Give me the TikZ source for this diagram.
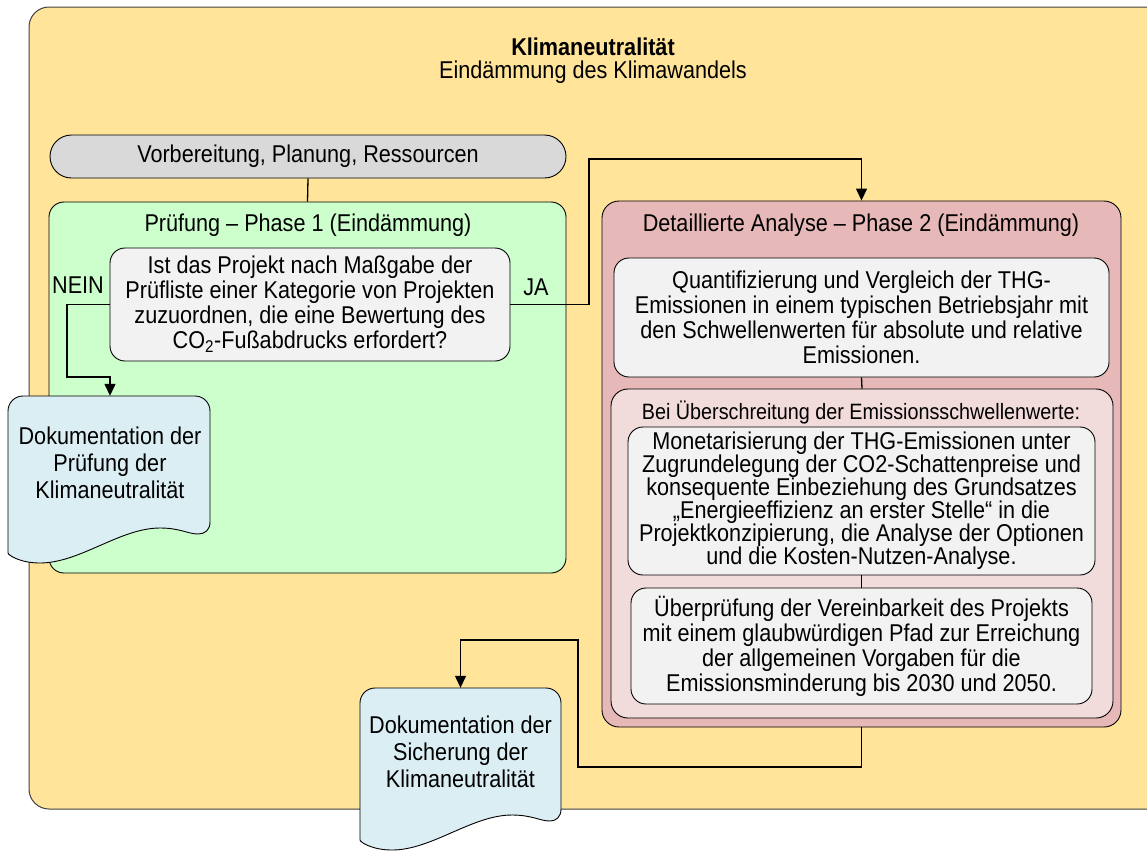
\documentclass[tikz,border=0pt]{standalone}
\usepackage{fontspec}
\setmainfont{Liberation Sans}[FakeStretch=0.89]
\usetikzlibrary{arrows.meta}
\definecolor{outerY}{HTML}{FFE499}
\definecolor{greyB}{HTML}{D9D9D9}
\definecolor{greenB}{HTML}{CCFFCC}
\definecolor{lightB}{HTML}{F2F2F2}
\definecolor{docB}{HTML}{DBEEF4}
\definecolor{redB}{HTML}{E6B8B7}
\definecolor{pinkB}{HTML}{F2DCDB}
\newcommand{\fsA}{\fontsize{24.3}{25}\selectfont}
\newcommand{\fsM}{\fontsize{24.3}{23}\selectfont}
\newcommand{\fsD}{\fontsize{24.3}{27}\selectfont}
\newcommand{\fsS}{\fontsize{22.2}{24}\selectfont}
\newcommand{\docshape}[5]{% x0 y0 x1 yb fill
  \filldraw[fill=#5, draw=black, line width=0.9pt]
    (#3,{#4-41}) [rounded corners=15pt] -- (#3,#2) -- (#1,#2) -- (#1,{#4-25}) [sharp corners]
    .. controls (#1,{#4-8}) and ({#1+12},#4) .. ({#1+32},#4)
    .. controls ({#1+72},#4) and ({#1+112},{#4-35}) .. ({#1+152},{#4-35})
    .. controls ({#1+172},{#4-35}) and ({#1+180},{#4-29}) .. ({#1+190},{#4-29})
    .. controls ({#3-5},{#4-29}) and (#3,{#4-33}) .. (#3,{#4-41}) -- cycle;}
\tikzset{
  box/.style={draw=black, line width=0.9pt, inner sep=0pt, align=center, font=\fsA},
  lbl/.style={inner sep=0pt, align=center, font=\fsA},
  conn/.style={draw=black, line width=1.3pt},
  arr/.style={conn, -{Triangle[length=12pt,width=11pt]}},
}
\begin{document}
\begin{tikzpicture}[x=1pt,y=-1pt]
\useasboundingbox (0,0) rectangle (1147,852);
\clip (0,0) rectangle (1147,852);
% outer frame
\filldraw[fill=outerY, draw=black!75, line width=1pt, rounded corners=20pt] (29,7) rectangle (1170,809);
\node[lbl, font=\fsA\bfseries] (title) at (593,47) {Klimaneutralität};
\node[lbl] (subtitle) at (593,72) {Eindämmung des Klimawandels};
% grey bar
\node[box, fill=greyB, rounded corners=21.5pt, minimum width=516pt, minimum height=43pt] (prep) at (308,156.5) {Vorbereitung, Planung, Ressourcen};
% green phase 1
\node[box, fill=greenB, rounded corners=15pt, minimum width=517pt, minimum height=371pt] (green) at (307.5,387.5) {};
\node[lbl] (greentitle) at (308,225) {Prüfung – Phase 1 (Eindämmung)};
\node[box, fill=lightB, rounded corners=15pt, minimum width=400pt, minimum height=113pt] (q) at (310,304.5)
  {Ist das Projekt nach Maßgabe der\\Prüfliste einer Kategorie von Projekten\\zuzuordnen, die eine Bewertung des\\CO\textsubscript{2}-Fußabdrucks erfordert?};
\node[lbl] (nein) at (78,285) {NEIN};
\node[lbl] (ja) at (536,287) {JA};
% red phase 2
\node[box, fill=redB, rounded corners=17pt, minimum width=519pt, minimum height=526pt] (red) at (861.5,464) {};
\node[lbl] (redtitle) at (861,225) {Detaillierte Analyse – Phase 2 (Eindämmung)};
\node[box, fill=lightB, rounded corners=15pt, minimum width=495pt, minimum height=119pt] (quant) at (861.5,317.5)
  {Quantifizierung und Vergleich der THG-\\Emissionen in einem typischen Betriebsjahr mit\\den Schwellenwerten für absolute und relative\\Emissionen.};
\node[box, fill=pinkB, rounded corners=17pt, minimum width=502pt, minimum height=329pt] (pink) at (862,553.5) {};
\node[lbl, font=\fsS] (pinktitle) at (861,413) {Bei Überschreitung der Emissionsschwellenwerte:};
\node[box, fill=lightB, rounded corners=15pt, minimum width=467pt, minimum height=148pt, font=\fsM] (monet) at (861.5,501)
  {Monetarisierung der THG-Emissionen unter\\Zugrundelegung der CO2-Schattenpreise und\\konsequente Einbeziehung des Grundsatzes\\„Energieeffizienz an erster Stelle“ in die\\Projektkonzipierung, die Analyse der Optionen\\und die Kosten-Nutzen-Analyse.};
\node[box, fill=lightB, rounded corners=15pt, minimum width=461pt, minimum height=116pt] (ueber) at (861.5,646)
  {Überprüfung der Vereinbarkeit des Projekts\\mit einem glaubwürdigen Pfad zur Erreichung\\der allgemeinen Vorgaben für die\\Emissionsminderung bis 2030 und 2050.};
% documents
\docshape{8}{396}{210}{563}{docB}
\node[lbl, font=\fsD, minimum width=202pt, minimum height=134pt] (d1) at (110,463) {Dokumentation der\\Prüfung der\\Klimaneutralität};
\docshape{360}{688}{561}{850}{docB}
\node[lbl, font=\fsD, minimum width=201pt, minimum height=128pt] (d2) at (460.5,752) {Dokumentation der\\Sicherung der\\Klimaneutralität};
% connectors
\draw[conn] (prep.south) -- (green.north);
\draw[arr] (q.west) -| (67,377) -| (d1.north);
\draw[arr] (q.east) -| (589,159) -| (red.north);
\draw[conn] (quant.south) -- (pink.north);
\draw[conn] (monet.south) -- (ueber.north);
\draw[arr] (red.south) |- (578,767) -- (578,640) -| (d2.north);
\end{tikzpicture}
\end{document}
